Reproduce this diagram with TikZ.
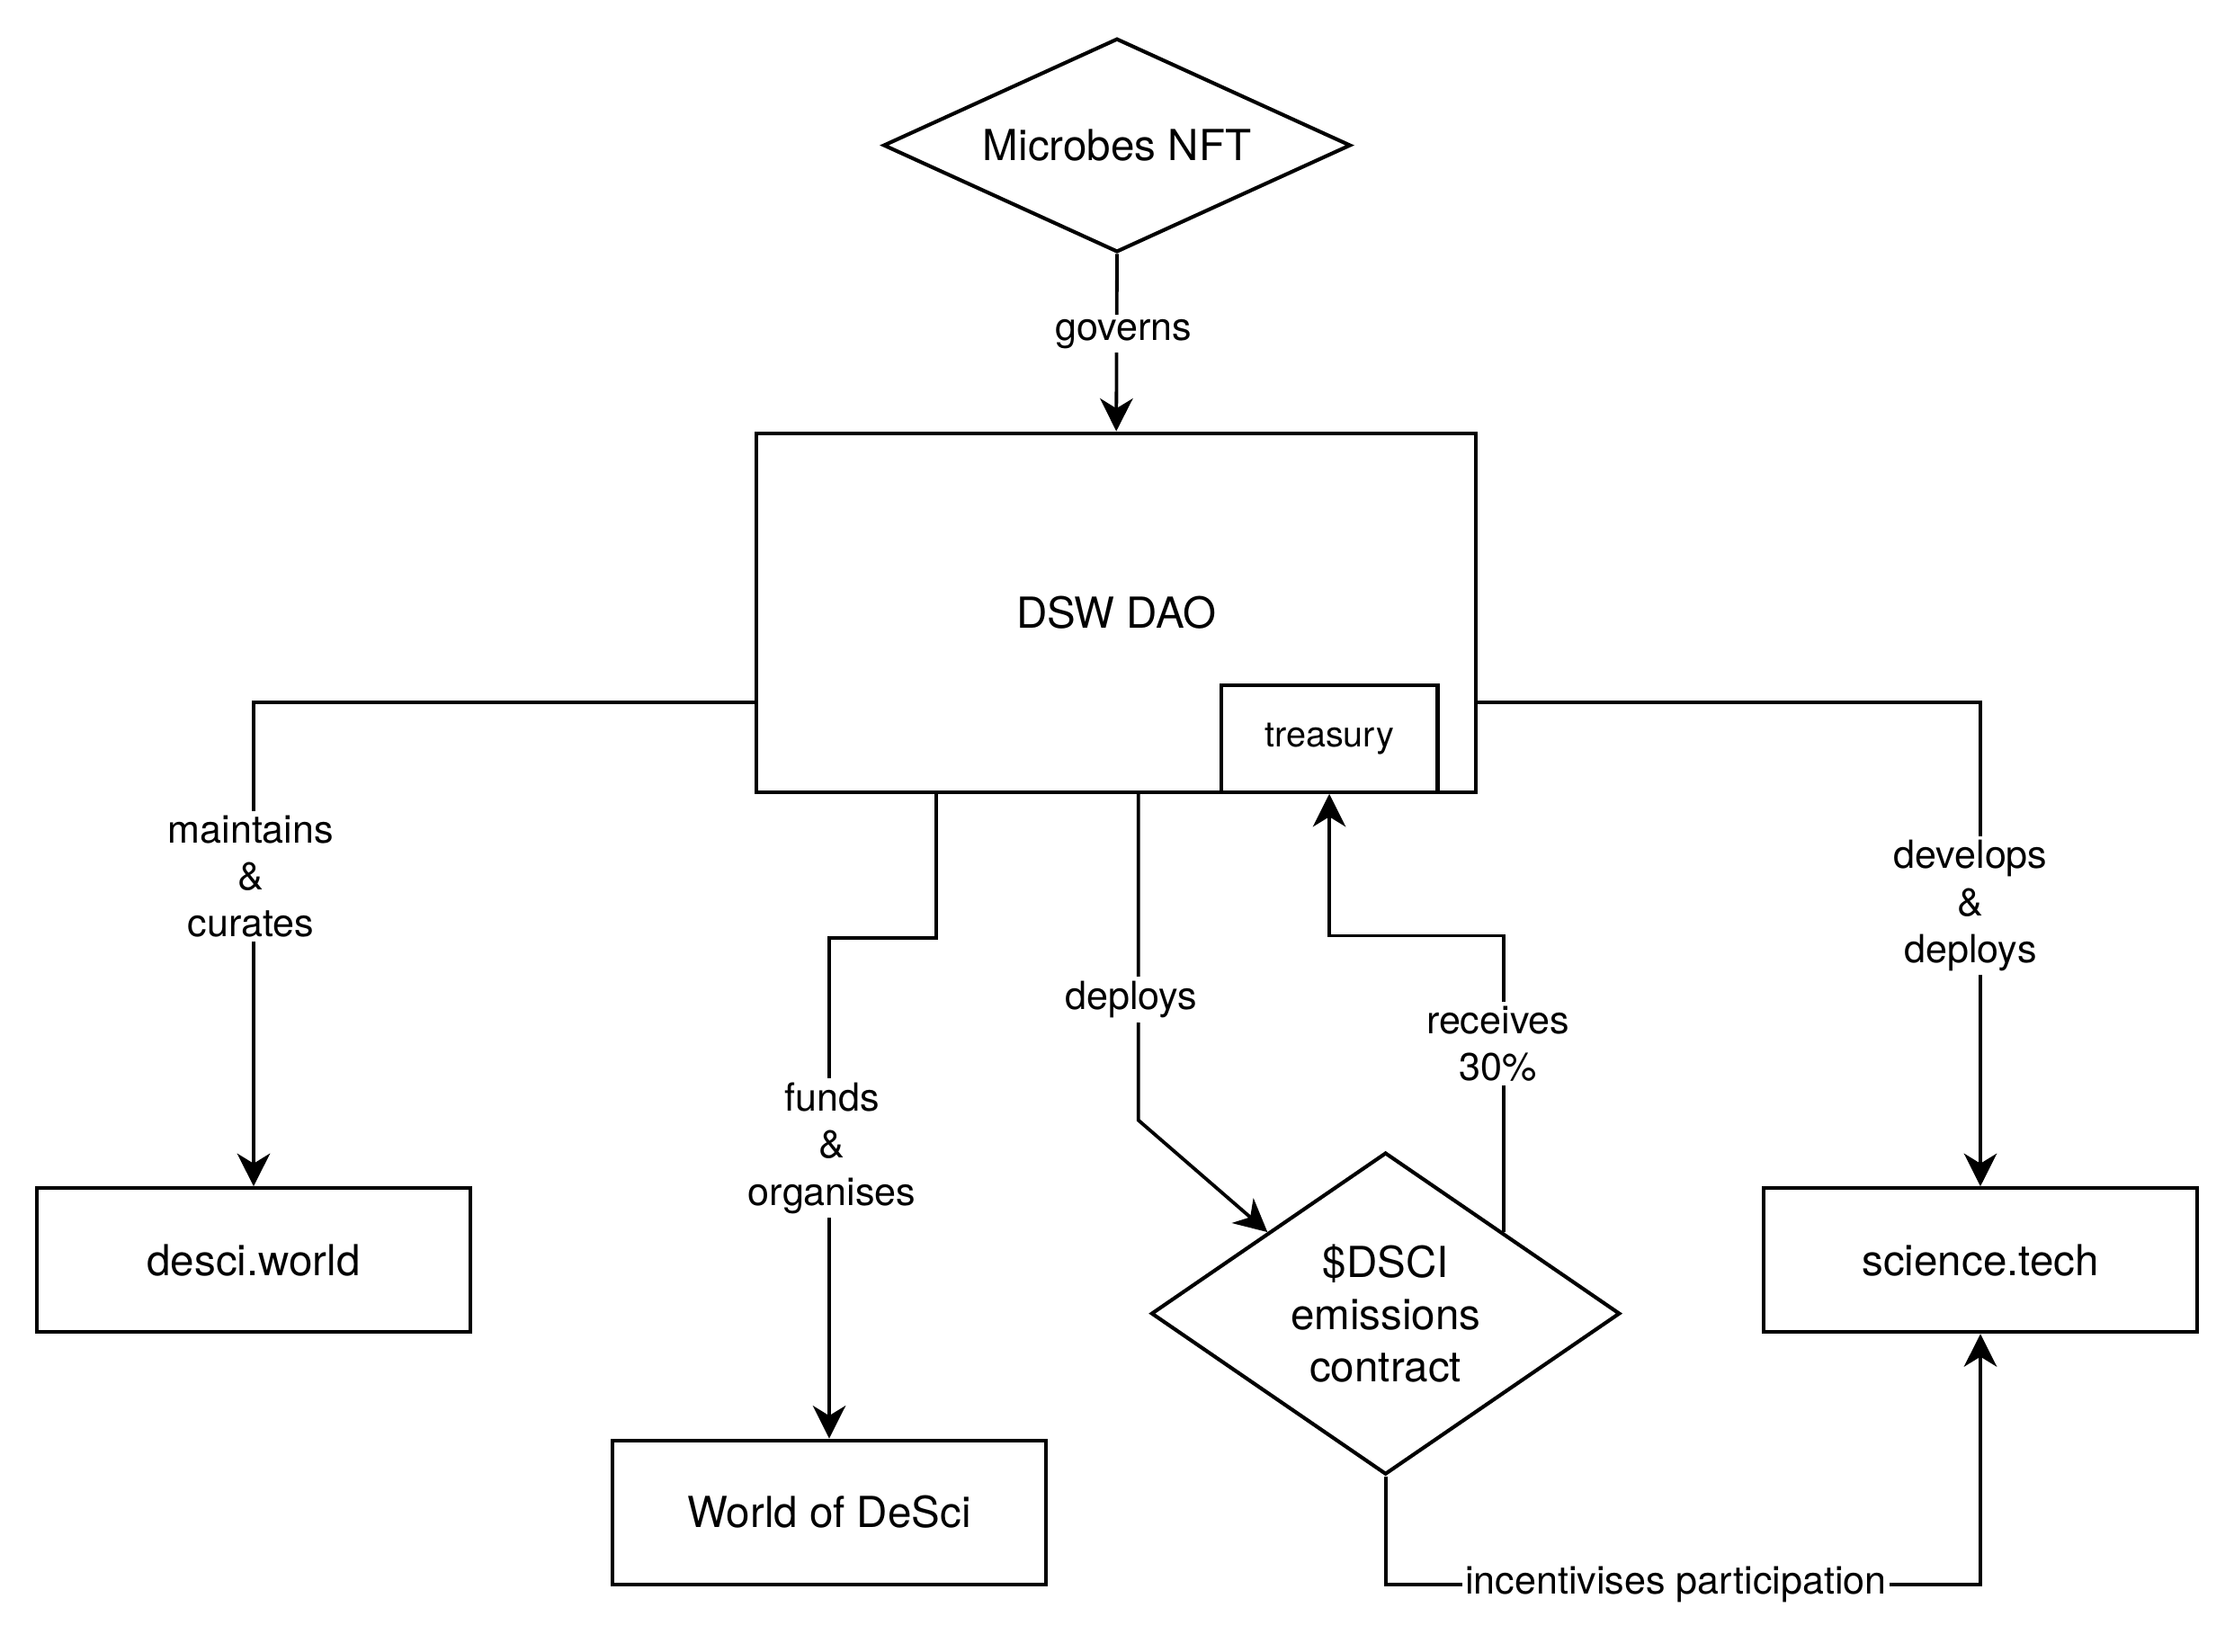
\documentclass[tikz,border=0pt]{standalone}
\usepackage{fontspec}
\setmainfont{TeX Gyre Heros}
\usetikzlibrary{shapes.geometric,arrows.meta}

\begin{document}
\begin{tikzpicture}[x=0.5pt,y=-0.5pt,
  box/.style={draw,line width=1.3pt,minimum width=152pt,minimum height=50.5pt,
    inner sep=0pt,font=\fontsize{15}{18}\selectfont},
  dia/.style={draw,diamond,line width=1.3pt,inner sep=0pt,align=center,
    font=\fontsize{15}{18.3}\selectfont},
  flow/.style={line width=1.2pt,-{Stealth[length=11.5pt,width=11.5pt,inset=3.5pt]}},
  lbl/.style={fill=white,inner sep=1.5pt,align=center,
    font=\fontsize{13.6}{16.5}\selectfont}]
\useasboundingbox (0,0) rectangle (1568,1159);
% nodes
\node[dia,aspect=2.19,minimum width=164pt,minimum height=75pt] (nft) at (784,102) {Microbes NFT};
\node[box,minimum width=252.5pt,minimum height=126pt] (dao) at (783.5,430) {DSW DAO};
\node[box,minimum width=76pt,minimum height=37.5pt,font=\fontsize{12.5}{15}\selectfont]
  (treasury) at (933,518.5) {treasury};
\node[box] (desci) at (178,884.5) {desci.world};
\node[box] (world) at (582,1061.5) {World of DeSci};
\node[dia,aspect=1.456,minimum width=164.5pt,minimum height=113pt] (dsci) at (972.5,922)
  {\$DSCI\\emissions\\contract};
\node[box] (sci) at (1390,884.5) {science.tech};
% connectors
\draw[flow] (nft.south) -- node[lbl,pos=0.45,xshift=2.5pt]{governs} (dao.north);
\draw[flow] ([yshift=-31.5pt]dao.west) -| node[lbl,pos=0.68,xshift=-1pt]{maintains\\\&\\curates} (desci.north);
\draw[flow] ([xshift=-63.25pt]dao.south) -- ++(0,101) -| node[lbl,pos=0.71,xshift=1pt]{funds\\\&\\organises} (world.north);
\draw[flow] ([xshift=7.75pt]dao.south) -- node[lbl,pos=0.63,xshift=-2.5pt]{deploys} ++(0,229) -- (dsci.north west);
\draw[flow] (dsci.north east) -- node[lbl,pos=0.635,xshift=-2pt]{receives\\30\%} ++(0,-208) -| (treasury.south);
\draw[flow] ([yshift=-31.5pt]dao.east) -| node[lbl,pos=0.71,xshift=-3.5pt]{develops\\\&\\deploys} (sci.north);
\draw[flow] (dsci.south) -- ++(0,76) -| node[lbl,pos=0.25,inner sep=1pt,xshift=-2.5pt]{incentivises participation} (sci.south);
\end{tikzpicture}
\end{document}
